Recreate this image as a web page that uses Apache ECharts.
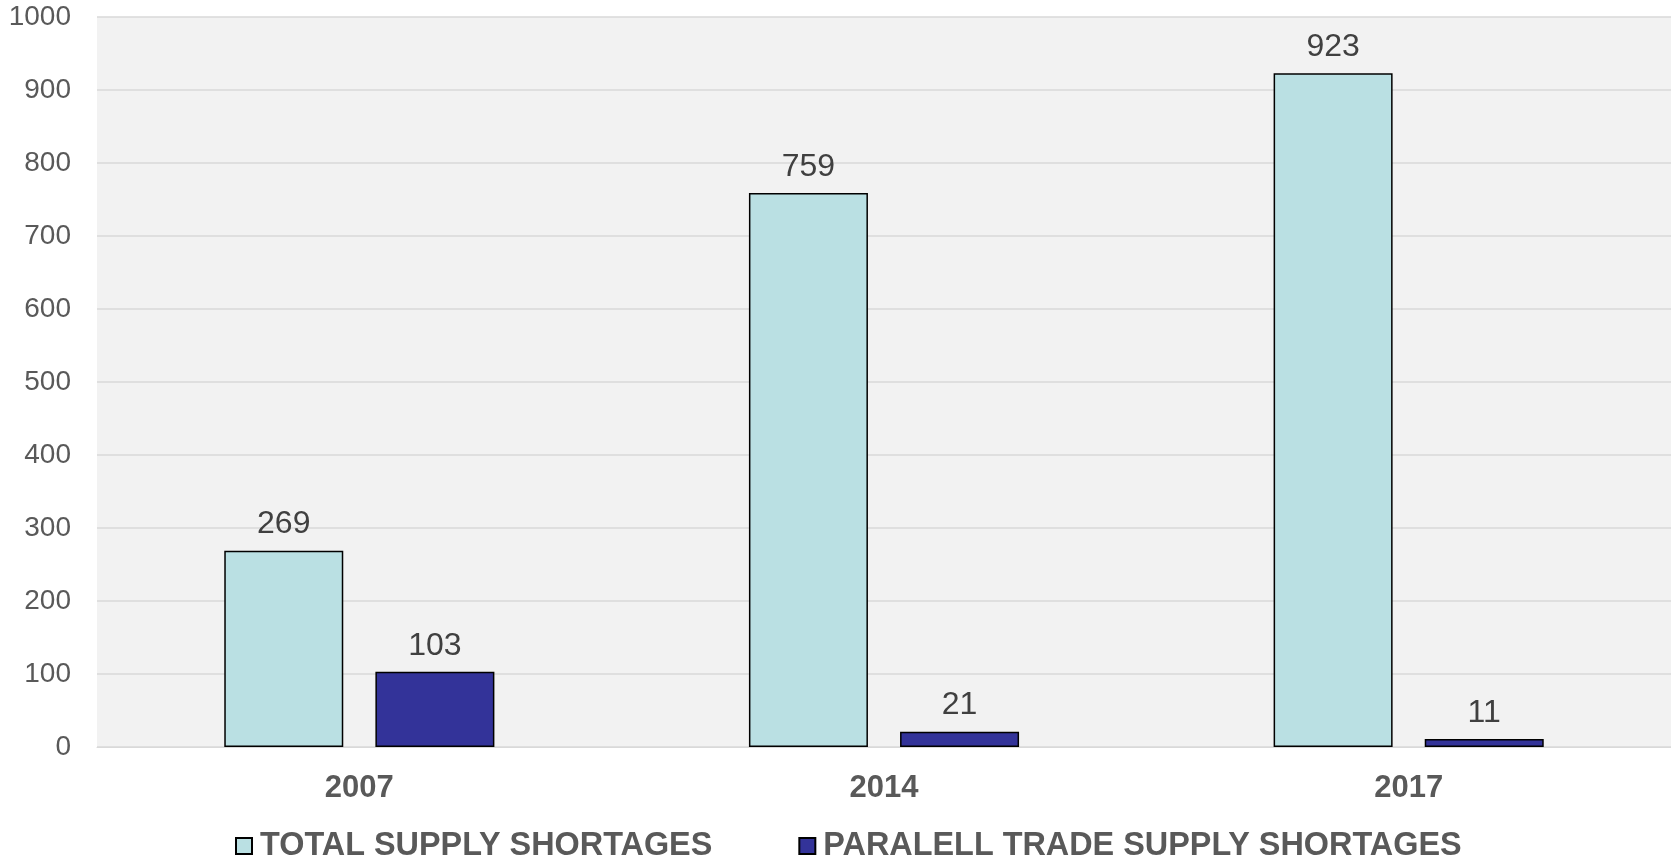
<!DOCTYPE html>
<html>
<head>
<meta charset="utf-8">
<script src="https://cdn.jsdelivr.net/npm/echarts@6/dist/echarts.min.js"></script>
<style>
html,body{margin:0;padding:0;background:#fff;}
#chart{width:1671px;height:861px;}
</style>
</head>
<body>
<div id="chart"></div>
<script>
const categories = ['2007', '2014', '2017'];
const seriesNames = ['TOTAL SUPPLY SHORTAGES', 'PARALELL TRADE SUPPLY SHORTAGES'];
const totalShortages = [269, 759, 923];
const parallelShortages = [103, 21, 11];
const yTicks = { min: 0, max: 1000, interval: 100 };

const chart = echarts.init(document.getElementById('chart'));
const font = 'Liberation Sans, Arial, sans-serif';
chart.setOption({
  animation: false,
  backgroundColor: '#ffffff',
  grid: {
    left: 97, right: 0, top: 17, bottom: 114,
    show: true, backgroundColor: '#F2F2F2', borderWidth: 0
  },
  legend: {
    bottom: -6,
    left: 230,
    itemWidth: 16, itemHeight: 16, itemGap: 86,
    icon: 'rect',
    textStyle: { fontFamily: font, fontSize: 32.4, fontWeight: 'bold', color: '#595959', padding: [0, 0, 0, 3] },
    data: seriesNames
  },
  xAxis: {
    type: 'category',
    data: categories,
    axisLine: { lineStyle: { color: '#D9D9D9', width: 1 } },
    axisTick: { show: false },
    axisLabel: { fontFamily: font, fontSize: 31, fontWeight: 'bold', color: '#595959', margin: 26 }
  },
  yAxis: {
    type: 'value',
    min: yTicks.min, max: yTicks.max, interval: yTicks.interval,
    axisLine: { show: false },
    axisTick: { show: false },
    splitLine: { lineStyle: { color: '#D9D9D9', width: 1.5 } },
    axisLabel: { fontFamily: font, fontSize: 28, color: '#595959', margin: 26, formatter: v => String(v) }
  },
  series: [
    {
      name: seriesNames[0], type: 'bar', data: totalShortages,
      barWidth: 119, barGap: '27%',
      itemStyle: { color: '#BAE0E3', borderColor: '#000', borderWidth: 1.5 },
      label: { show: true, position: 'top', distance: 10, fontFamily: font, fontSize: 32, color: '#404040' }
    },
    {
      name: seriesNames[1], type: 'bar', data: parallelShortages,
      barWidth: 119, barGap: '27%',
      itemStyle: { color: '#333399', borderColor: '#000', borderWidth: 1.5 },
      label: { show: true, position: 'top', distance: 10, fontFamily: font, fontSize: 32, color: '#404040' }
    }
  ]
});
</script>
</body>
</html>
